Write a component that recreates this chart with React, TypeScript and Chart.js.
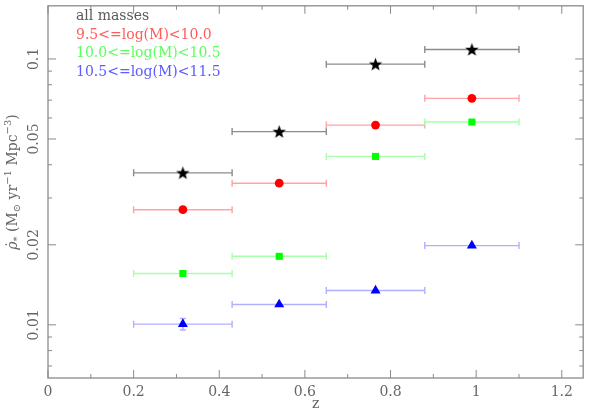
import React, { useEffect, useRef } from "react";
import { Chart, registerables } from "chart.js";

Chart.register(...registerables);

// redshift bins
const zLow = [0.2, 0.43, 0.65, 0.88];
const zHigh = [0.43, 0.65, 0.88, 1.1];
const zMid = [0.315, 0.54, 0.765, 0.99];

// SFR density per mass bin (Msun/yr/Mpc^3)
const rhoAll = [0.0373, 0.0533, 0.0956, 0.1086];
const rhoLow = [0.0271, 0.0341, 0.0564, 0.0711];
const rhoMid = [0.0156, 0.0181, 0.043, 0.0579];
const rhoHigh = [0.01006, 0.01193, 0.01346, 0.01986];
const rhoHighErr = [0.0005, 0, 0, 0];

const legendLabels = [
    "all masses",
    "9.5<=log(M)<10.0",
    "10.0<=log(M)<10.5",
    "10.5<=log(M)<11.5",
];

const xTicks = [0, 0.2, 0.4, 0.6, 0.8, 1, 1.2];
const xTickLabels = ["0", "0.2", "0.4", "0.6", "0.8", "1", "1.2"];
const xMinorTicks = [0.1, 0.3, 0.5, 0.7, 0.9, 1.1];
const yTicks = [0.01, 0.02, 0.05, 0.1];
const yTickLabels = ["0.01", "0.02", "0.05", "0.1"];
const yMinorTicks = [0.007, 0.008, 0.009, 0.03, 0.04, 0.06, 0.07, 0.08, 0.09];

const FONT = '"DejaVu Serif", serif';
const AXIS = "#8a8a8a";
const TEXT = "#666666";

const series = [
    { values: rhoAll, err: [0, 0, 0, 0], bar: "#8c8c8c", fill: "#000000", text: "#5a5a5a" },
    { values: rhoLow, err: [0, 0, 0, 0], bar: "#ffa3a3", fill: "#ff0000", text: "#ff5c5c" },
    { values: rhoMid, err: [0, 0, 0, 0], bar: "#a8ffa8", fill: "#00ff00", text: "#5cff5c" },
    { values: rhoHigh, err: rhoHighErr, bar: "#b0b0ff", fill: "#0000ff", text: "#5c5cff" },
];

function makeStar(): HTMLCanvasElement {
    const c = document.createElement("canvas");
    c.width = 15;
    c.height = 15;
    const g = c.getContext("2d")!;
    g.beginPath();
    for (let i = 0; i < 10; i++) {
        const r = i % 2 === 0 ? 7 : 2.9;
        const a = -Math.PI / 2 + (i * Math.PI) / 5;
        const px = 7.5 + r * Math.cos(a);
        const py = 8 + r * Math.sin(a);
        if (i === 0) g.moveTo(px, py);
        else g.lineTo(px, py);
    }
    g.closePath();
    g.fillStyle = "#000";
    g.fill();
    return c;
}

const framePlugin = {
    id: "frame",
    beforeDatasetsDraw(chart: any) {
        const { ctx, chartArea: a, scales } = chart;
        const xs = scales.x;
        const ys = scales.y;
        ctx.save();

        // box
        ctx.strokeStyle = AXIS;
        ctx.lineWidth = 1.3;
        ctx.strokeRect(a.left, a.top, a.right - a.left, a.bottom - a.top);

        // ticks, on all four sides
        ctx.lineWidth = 1;
        ctx.beginPath();
        const xTick = (v: number, len: number) => {
            const px = xs.getPixelForValue(v);
            ctx.moveTo(px, a.bottom);
            ctx.lineTo(px, a.bottom - len);
            ctx.moveTo(px, a.top);
            ctx.lineTo(px, a.top + len);
        };
        const yTick = (v: number, len: number) => {
            const py = ys.getPixelForValue(v);
            ctx.moveTo(a.left, py);
            ctx.lineTo(a.left + len, py);
            ctx.moveTo(a.right, py);
            ctx.lineTo(a.right - len, py);
        };
        xTicks.forEach((v) => xTick(v, 8));
        xMinorTicks.forEach((v) => xTick(v, 4));
        yTicks.forEach((v) => yTick(v, 8));
        yMinorTicks.forEach((v) => yTick(v, 4));
        ctx.stroke();

        // tick labels
        ctx.fillStyle = TEXT;
        ctx.font = `14px ${FONT}`;
        ctx.textAlign = "center";
        ctx.textBaseline = "alphabetic";
        xTicks.forEach((v, i) => {
            ctx.fillText(xTickLabels[i], xs.getPixelForValue(v), 396);
        });
        ctx.fillText("z", (a.left + a.right) / 2, 408);

        yTicks.forEach((v, i) => {
            ctx.save();
            ctx.translate(38, ys.getPixelForValue(v));
            ctx.rotate(-Math.PI / 2);
            ctx.fillText(yTickLabels[i], 0, 0);
            ctx.restore();
        });

        // y axis title with sub/superscripts
        const parts = [
            { t: "\u03c1\u0307", s: 14, dy: 0, it: true },
            { t: "*", s: 10, dy: 3, it: false },
            { t: " (M", s: 14, dy: 0, it: false },
            { t: "\u2299", s: 10, dy: 3, it: false },
            { t: " yr", s: 14, dy: 0, it: false },
            { t: "\u22121", s: 10, dy: -6, it: false },
            { t: " Mpc", s: 14, dy: 0, it: false },
            { t: "\u22123", s: 10, dy: -6, it: false },
            { t: ")", s: 14, dy: 0, it: false },
        ];
        const fontOf = (p: any) => `${p.it ? "italic " : ""}${p.s}px ${FONT}`;
        let total = 0;
        parts.forEach((p) => {
            ctx.font = fontOf(p);
            total += ctx.measureText(p.t).width;
        });
        ctx.save();
        ctx.translate(16.5, 182);
        ctx.rotate(-Math.PI / 2);
        ctx.textAlign = "left";
        let cx = -total / 2;
        parts.forEach((p) => {
            ctx.font = fontOf(p);
            ctx.fillText(p.t, cx, p.dy);
            cx += ctx.measureText(p.t).width;
        });
        ctx.restore();

        // legend text
        ctx.textAlign = "left";
        ctx.font = `14px ${FONT}`;
        legendLabels.forEach((label, i) => {
            ctx.fillStyle = series[i].text;
            ctx.fillText(label, 76, 20 + i * 18.5);
        });

        // error bars
        series.forEach((s) => {
            ctx.strokeStyle = s.bar;
            ctx.lineWidth = 1.4;
            ctx.beginPath();
            s.values.forEach((v, i) => {
                const py = ys.getPixelForValue(v);
                const x0 = xs.getPixelForValue(zLow[i]);
                const x1 = xs.getPixelForValue(zHigh[i]);
                ctx.moveTo(x0, py);
                ctx.lineTo(x1, py);
                ctx.moveTo(x0, py - 3.5);
                ctx.lineTo(x0, py + 3.5);
                ctx.moveTo(x1, py - 3.5);
                ctx.lineTo(x1, py + 3.5);
                if (s.err[i] > 0) {
                    const xm = xs.getPixelForValue(zMid[i]);
                    const ya = ys.getPixelForValue(v + s.err[i]);
                    const yb = ys.getPixelForValue(v - s.err[i]);
                    ctx.moveTo(xm, ya);
                    ctx.lineTo(xm, yb);
                    ctx.moveTo(xm - 3, ya);
                    ctx.lineTo(xm + 3, ya);
                    ctx.moveTo(xm - 3, yb);
                    ctx.lineTo(xm + 3, yb);
                }
            });
            ctx.stroke();
        });

        ctx.restore();
    },
};

export default function App() {
    const canvasRef = useRef<HTMLCanvasElement | null>(null);
    const chartRef = useRef<Chart | null>(null);

    useEffect(() => {
        if (!canvasRef.current) return;
        const ctx = canvasRef.current.getContext("2d");
        if (!ctx) return;

        if (chartRef.current) {
            chartRef.current.destroy();
        }

        const star = makeStar();
        const points = (vals: number[]) => zMid.map((z, i) => ({ x: z, y: vals[i] }));

        chartRef.current = new Chart(ctx, {
            type: "scatter",
            data: {
                datasets: [
                    {
                        label: legendLabels[0],
                        data: points(rhoAll),
                        pointStyle: star as any,
                        backgroundColor: "#000",
                    },
                    {
                        label: legendLabels[1],
                        data: points(rhoLow),
                        pointStyle: "circle",
                        pointRadius: 4.4,
                        backgroundColor: "#ff0000",
                        borderWidth: 0,
                    },
                    {
                        label: legendLabels[2],
                        data: points(rhoMid),
                        pointStyle: "rect",
                        pointRadius: 5,
                        backgroundColor: "#00ff00",
                        borderWidth: 0,
                    },
                    {
                        label: legendLabels[3],
                        data: points(rhoHigh),
                        pointStyle: "triangle",
                        pointRadius: 5.8,
                        backgroundColor: "#0000ff",
                        borderWidth: 0,
                    },
                ],
            },
            options: {
                responsive: false,
                animation: false,
                events: [],
                clip: false as any,
                layout: {
                    padding: { left: 48, right: 1, top: 1, bottom: 32 },
                },
                plugins: {
                    legend: { display: false },
                    tooltip: { enabled: false },
                },
                scales: {
                    x: { type: "linear", min: 0, max: 1.25, display: false },
                    y: {
                        type: "logarithmic",
                        min: Math.pow(10, -2.2),
                        max: Math.pow(10, -0.8),
                        display: false,
                    },
                },
            },
            plugins: [framePlugin],
        });

        return () => {
            chartRef.current?.destroy();
            chartRef.current = null;
        };
    }, []);

    return (
        <div style={{ position: "absolute", left: 0, top: 0, width: 589, height: 410, background: "#fff" }}>
            <canvas ref={canvasRef} width={589} height={410}></canvas>
        </div>
    );
}
